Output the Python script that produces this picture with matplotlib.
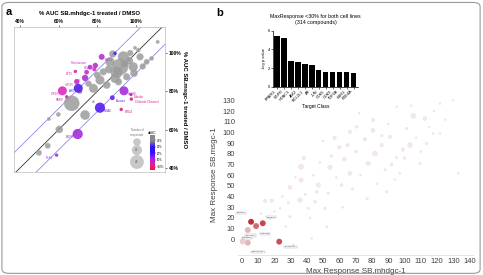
import numpy as np
import matplotlib.pyplot as plt
from matplotlib.colors import LinearSegmentedColormap
from matplotlib.patches import FancyBboxPatch

plt.rcParams['font.family'] = ['Liberation Sans', 'DejaVu Sans']

# ---- panel a : bubble plot, % AUC treated / DMSO ----
gray_x = [66.8, 73.7, 60.4, 55.0, 59.9, 54.4, 49.9, 78.0, 111.2, 99.5, 71.1, 78.0,
          91.8, 93.5, 86.6, 83.1, 81.4, 102.1, 105.5, 98.6, 95.2, 89.2, 84.9, 101.2,
          108.1, 90.0, 96.5, 88.0, 80.0, 75.5, 94.0, 99.0, 86.0, 91.0, 103.5, 97.0]
gray_y = [73.8, 67.7, 60.2, 65.6, 68.0, 51.7, 48.0, 74.6, 105.8, 102.7, 79.8, 81.6,
          92.8, 98.0, 95.4, 90.2, 85.9, 98.0, 95.4, 92.8, 87.6, 86.8, 83.3, 101.5,
          97.2, 90.0, 96.0, 99.5, 88.5, 84.0, 94.5, 89.5, 91.5, 85.0, 93.0, 100.0]
gray_n = [40, 15, 9, 2, 3, 5, 5, 1, 2, 2, 3, 13,
          45, 20, 14, 8, 13, 8, 5, 14, 8, 14, 9, 3,
          3, 25, 10, 8, 7, 6, 12, 9, 10, 8, 6, 6]

col_x = [82.3, 89.2, 68.7, 76.3, 79.0, 73.7, 69.4, 62.0, 70.2, 64.2, 93.8, 97.4,
         87.8, 97.6, 81.4, 92.4, 69.9, 59.0, 74.5, 78.5]
col_y = [98.0, 99.8, 90.4, 92.6, 93.5, 87.0, 85.0, 80.3, 81.6, 77.2, 80.3, 78.4,
         76.7, 76.0, 71.5, 70.6, 57.8, 46.8, 90.0, 91.5]
col_n = [6, 2, 2, 4, 5, 7, 5, 14, 14, 2, 14, 2, 4, 2, 18, 2, 18, 2, 4, 3]
col_d = [0.55, 0.15, 0.8, 0.6, 0.55, 0.5, 0.7, 0.7, 0.15, 0.75, 0.45, 0.85,
         0.2, 0.85, 0.15, 0.85, 0.45, 0.45, 0.6, 0.65]
col_lab = ['MCL1', '', 'FLT3', 'Proteasome', 'HDAC', 'PI3K', 'mTOR', 'IGF1R', 'AKT',
           'PARP', 'Hsp90', 'Tubulin', 'Aurora', 'Chloride Channel', 'HDAC', 'BRD4',
           'EGFR', 'PLK1', '', '']

leg_n = [10, 20, 40]
cbar_labels = ['40%', '30%', '20%', '10%', '<10%']

# ---- panel b inset : target class enrichment ----
classes = ['PPARG', 'EGFR', 'HDAC1', 'JAK2', 'BCL2L1', 'AR', 'JUN', 'CDK5',
           'CDK9', 'TOP2A', 'ESR1', 'PDE4A']
logp = [5.45, 5.2, 2.75, 2.68, 2.5, 2.33, 1.82, 1.6, 1.6, 1.6, 1.55, 1.45]

# ---- panel b : max response scatter ----
mr_x = [36.4, 36.4, 29.6, 46.0, 35.8, 14.3, 18.4, 28.6, 54.2, 59.9, 66.4, 61.3,
        53.1, 77.7, 85.9, 81.8, 103.3, 75.6, 80.6, 51.1, 45.0, 40.9, 47.0, 29.6,
        23.5, 17.4, 52.1, 42.9, 31.7, 89.0, 97.1, 113.5, 121.7, 132.9, 109.4, 95.0,
        105.3, 112.5, 121.7, 129.8, 95.1, 80.7, 70.6, 66.4, 117.5, 101.2, 91.0,
        58.0, 63.0, 70.0, 44.0, 39.0, 25.0, 20.0, 12.0, 33.0, 57.0, 73.0, 86.0,
        92.0, 99.0, 107.0, 115.0, 125.0, 83.0, 68.0, 48.0, 42.0, 62.0, 77.0, 90.0,
        55.0, 38.0, 27.0, 110.0, 118.0, 88.0, 72.0, 65.0, 50.0, 100.0, 104.0, 94.0]
mr_y = [67.9, 55.4, 48.6, 44.5, 36.7, 36.1, 36.1, 34.2, 67.3, 86.0, 61.7, 50.7,
        43.0, 71.0, 88.1, 80.3, 88.1, 93.5, 102.0, 29.0, 35.1, 29.0, 50.7, 21.1,
        29.0, 19.6, 11.8, 0.9, -5.3, 44.5, 61.7, 89.7, 99.0, 61.7, 71.0, 76.3,
        115.5, 113.0, 127.0, 130.0, 124.0, 111.5, 105.2, 100.6, 99.0, 103.7, 95.9,
        58.0, 75.0, 82.0, 60.0, 42.0, 40.0, 26.0, 24.0, 58.0, 95.0, 60.0, 97.0,
        70.0, 84.0, 95.0, 105.0, 112.0, 52.0, 47.0, 72.0, 20.0, 30.0, 38.0, 108.0,
        78.0, 76.0, 12.0, 82.0, 120.0, 65.0, 118.0, 88.0, 92.0, 76.0, 125.0, 56.0]
mr_s = [14, 10, 8, 4, 12, 6, 6, 3, 10, 6, 8, 4,
        3, 10, 6, 12, 12, 6, 8, 4, 4, 3, 10, 3,
        2, 2, 3, 2, 2, 3, 2, 4, 2, 2, 3, 3,
        12, 8, 2, 2, 2, 6, 4, 6, 2, 3, 6,
        2, 8, 4, 2, 3, 2, 2, 2, 2, 6, 2, 3,
        4, 6, 2, 2, 2, 2, 3, 2, 2, 2, 3, 2,
        4, 6, 2, 2, 2, 3, 2, 6, 2, 4, 2, 2]

hit_x = [5.7, 12.9, 8.8, 3.7, 23.0, 3.7, 0.6]
hit_y = [16.4, 15.0, 12.4, 8.7, -2.2, -3.2, -2.0]
hit_c = ['#c0303a', '#c84650', '#d06a72', '#e3b8bd', '#c8505a', '#e2b6bc', '#e8cfd2']
hit_lab = ['GANT61', 'Ro-3306', 'AZD5363', 'BI-D1870', 'PF-562271', 'SCH772984', 'NVP-BEZ']

fig = plt.figure(figsize=(4.83, 2.75), dpi=100)
fig.patches.append(FancyBboxPatch((0.004, 0.006), 0.99, 0.985, boxstyle='round,pad=0,rounding_size=0.015',
                                  transform=fig.transFigure, fill=False, ec='#9a9a9a', lw=0.8))
fig.text(0.012, 0.945, 'a', fontsize=8, fontweight='bold')
fig.text(0.448, 0.94, 'b', fontsize=8, fontweight='bold')

# panel a
ax = fig.add_axes([0.029, 0.3745, 0.3126, 0.527])
xx = np.array([20, 130])
ax.plot(xx, xx, color='#333333', lw=0.6, zorder=1)
ax.plot(xx, xx + 11, color='#8a8ae6', lw=0.6, zorder=1)
ax.plot(xx, xx - 10.5, color='#8a8ae6', lw=0.6, zorder=1)
ax.scatter(gray_x, gray_y, s=np.array(gray_n) * 3, color='#9b9b9b', alpha=0.85,
           edgecolors='#b5b5b5', linewidths=0.3, zorder=2)
cmap = LinearSegmentedColormap.from_list('dauc', ['#2a14f0', '#8a2be2', '#d630c8', '#e0185a'])
ax.scatter(col_x, col_y, s=np.array(col_n) * 3, c=col_d, cmap=cmap, vmin=0, vmax=1,
           alpha=0.9, edgecolors='none', zorder=3)
for x, y, lab, d in zip(col_x, col_y, col_lab, col_d):
    if lab:
        left = x < 80
        dy = 2.0 if lab == 'Proteasome' else -1.5
        ax.text(x + (-1.8 if left else 1.8), y + dy, lab, fontsize=2.2, color=cmap(d),
                ha='right' if left else 'left', va='center', zorder=4)
# size legend
leg_y = [53.6, 49.4, 43.2]
ax.scatter([100.5] * 3, leg_y, s=np.array(leg_n) * 2, color='#c8c8c8', zorder=3)
for y, n in zip(leg_y[1:], leg_n[1:]):
    ax.text(100.5, y, str(n), fontsize=2.2, ha='center', va='center', color='#555555', zorder=4)
ax.text(100.5, 58.5, 'Number of\ncompounds', fontsize=2, ha='center', va='center', color='#777777')
ax.set_xlim(37, 115)
ax.set_ylim(38, 113.5)
ax.xaxis.tick_top()
ax.set_xticks([40, 60, 80, 100])
ax.set_xticklabels(['40%', '60%', '80%', '100%'], fontsize=3.5, fontweight='bold')
ax.yaxis.tick_right()
ax.set_yticks([40, 60, 80, 100])
ax.set_yticklabels(['40%', '60%', '80%', '100%'], fontsize=3.5, fontweight='bold')
ax.tick_params(length=1.5, width=0.4, pad=1)
for sp in ax.spines.values():
    sp.set_color('#bbbbbb')
    sp.set_linewidth(0.5)
ax.set_title('% AUC SB.mhdgc-1 treated / DMSO', fontsize=4.3, fontweight='bold', pad=9)
ax.yaxis.set_label_position('right')
ax.set_ylabel('% AUC SB.msgc-1 treated / DMSO', fontsize=4.3, fontweight='bold',
              rotation=-90, labelpad=4)

# colour bar legend
cax = fig.add_axes([150 / 483, 1 - 170 / 275, 5 / 483, 35 / 275])
grad = np.linspace(1, 0, 100).reshape(-1, 1)
cb_cmap = LinearSegmentedColormap.from_list('cb', ['#ff1030', '#e020a0', '#a020f0', '#3010ff', '#3010ff', '#888888', '#888888'])
cax.imshow(grad, aspect='auto', cmap=cb_cmap, extent=[0, 1, 0, 1])
cax.set_xticks([])
cax.yaxis.tick_right()
cax.set_yticks(np.linspace(0.85, 0.1, len(cbar_labels)))
cax.set_yticklabels(cbar_labels, fontsize=2)
cax.tick_params(length=0.8, width=0.3, pad=0.5)
cax.set_title('dAUC', fontsize=2.3, pad=1)
for sp in cax.spines.values():
    sp.set_visible(False)

# panel b inset bar chart
bx = fig.add_axes([0.565, 0.684, 0.176, 0.204])
bx.bar(range(len(classes)), logp, width=0.75, color='black')
bx.set_ylim(0, 6)
bx.set_yticks([0, 2, 4, 6])
bx.set_xlim(-0.6, len(classes) - 0.4)
bx.set_xticks(range(len(classes)))
bx.set_xticklabels(classes, rotation=45, ha='right', fontsize=2.8)
bx.tick_params(axis='y', labelsize=3, length=1.2, width=0.4, pad=1)
bx.tick_params(axis='x', length=1.2, width=0.4, pad=0.5)
bx.spines['top'].set_visible(False)
bx.spines['right'].set_visible(False)
bx.spines['left'].set_linewidth(0.5)
bx.spines['bottom'].set_linewidth(0.5)
bx.set_ylabel('-log p value', fontsize=3, labelpad=1.5)
bx.set_xlabel('Target Class', fontsize=3.5, labelpad=1)
bx.set_title('MaxResponse <30% for both cell lines\n(314 compounds)', fontsize=3.8, pad=5)

# panel b main scatter
cx = fig.add_axes([0.4928, 0.0727, 0.4865, 0.5818])
cx.patch.set_alpha(0)
cx.scatter(mr_x, mr_y, s=mr_s, color='#f1e3e5', alpha=0.8, edgecolors='#ead6d9',
           linewidths=0.3, zorder=1)
cx.scatter(hit_x, hit_y, s=18, c=hit_c, edgecolors='none', zorder=3)
offsets = [(-10, 6), (3, 4), (3, -6), (-4, -6), (4, -4), (3, -7), (2, 4)]
for x, y, lab, off in zip(hit_x, hit_y, hit_lab, offsets):
    cx.annotate(lab, (x, y), xytext=off, textcoords='offset points', fontsize=1.6,
                color='#555555', bbox=dict(boxstyle='square,pad=0.3', fc='white', ec='#aaaaaa', lw=0.3),
                zorder=4)
cx.set_xlim(-2.3, 142)
cx.set_ylim(-14.7, 135)
cx.set_xticks(range(0, 141, 10))
cx.set_yticks(range(0, 131, 10))
cx.tick_params(labelsize=5.5, length=0, pad=2, colors='#404040')
for side in ['top', 'right', 'left']:
    cx.spines[side].set_visible(False)
cx.spines['bottom'].set_color('#d9d9d9')
cx.spines['bottom'].set_linewidth(0.5)
cx.set_xlabel('Max Response SB.mhdgc-1', fontsize=5.8, color='#404040', labelpad=2)
cx.set_ylabel('Max Response SB.msgc-1', fontsize=5.8, color='#404040', labelpad=3)

fig.savefig('out.png', dpi=100)
